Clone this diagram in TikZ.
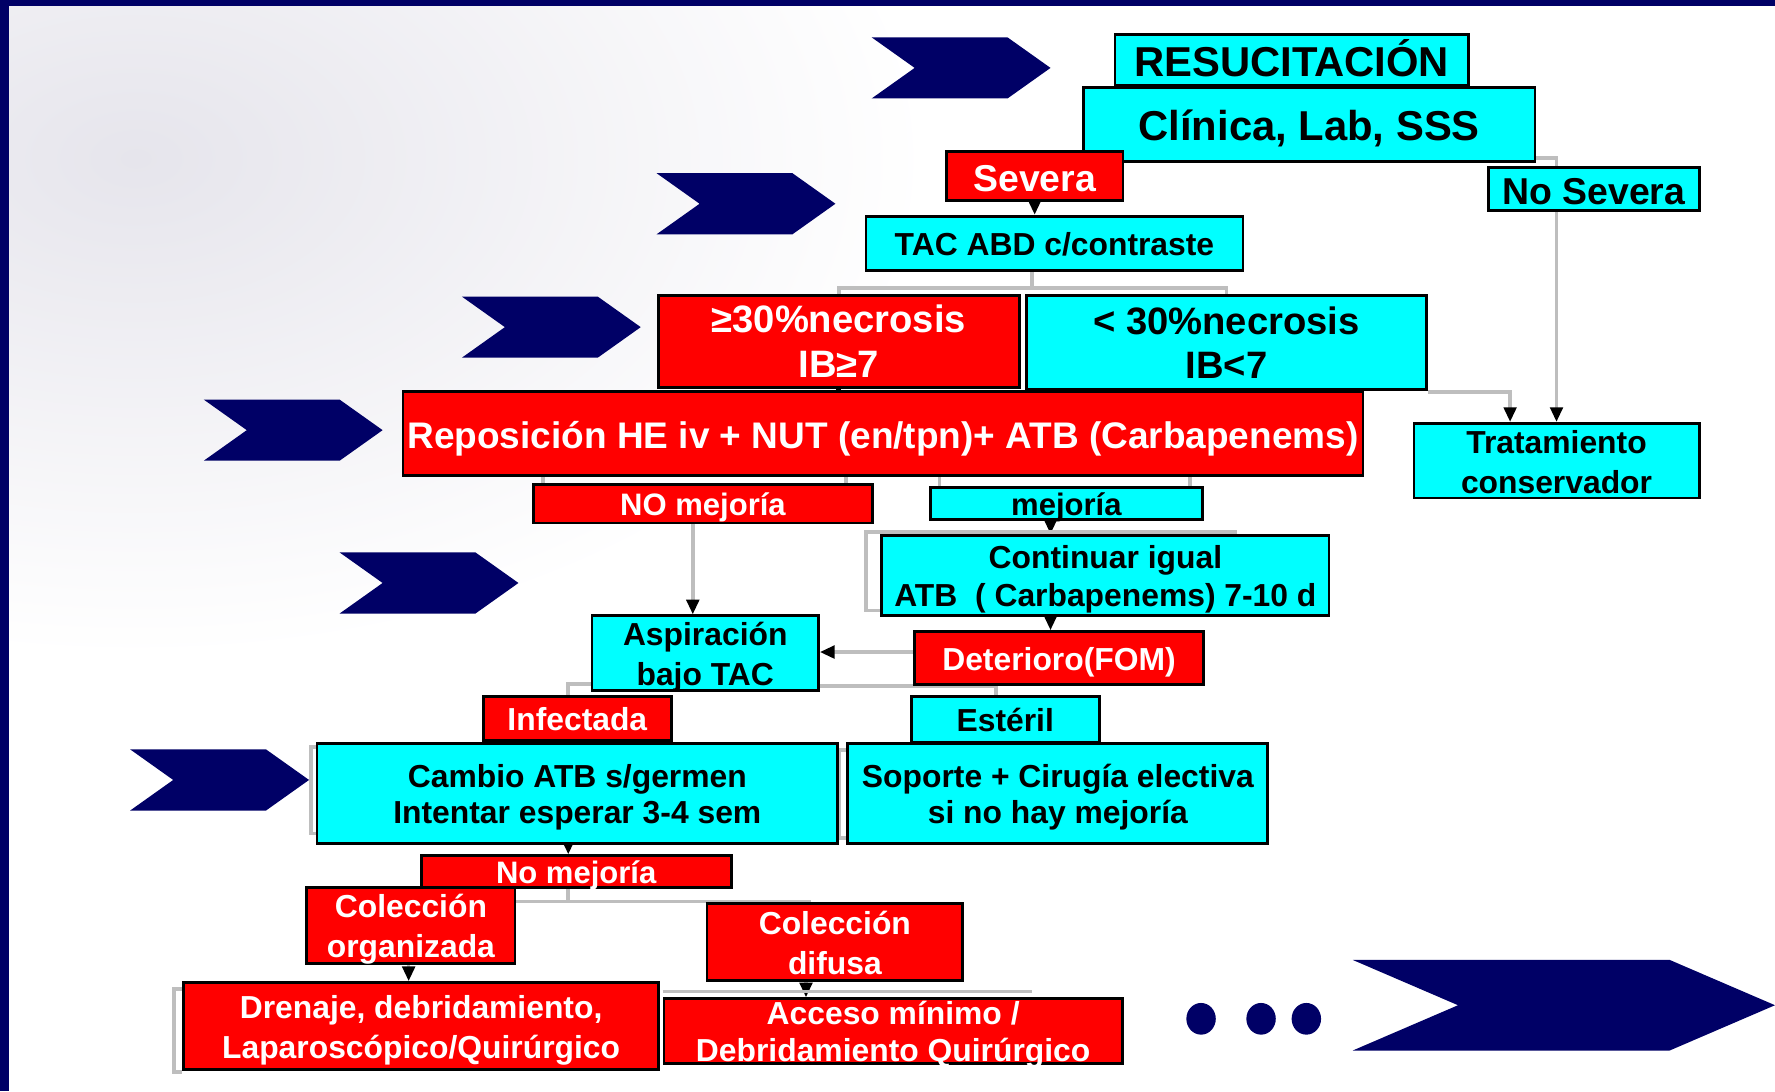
\documentclass[tikz,border=0pt]{standalone}
\usepackage{fontspec}
\setmainfont{Liberation Sans}
\usetikzlibrary{arrows.meta,backgrounds}
\definecolor{navy}{RGB}{0,0,102}
\definecolor{boxcyan}{RGB}{0,255,255}
\definecolor{boxred}{RGB}{255,0,0}
\definecolor{lgray}{RGB}{190,190,190}
\definecolor{haze}{RGB}{230,229,236}
% centred lines of a box
\newcommand{\btxt}[1]{\raisebox{-0.39em}[0pt][0pt]{\begin{tabular}{@{}c@{}}#1\end{tabular}}}

\begin{document}
\begin{tikzpicture}
  [x=0.1mm,y=-0.1mm,
   box/.style={draw=black,line width=0.7pt,inner sep=0pt},
   cbox/.style={box,fill=boxcyan,text=black},
   rbox/.style={box,fill=boxred,text=white},
   txt/.style 2 args={font=\bfseries\fontsize{#1}{#2}\selectfont},
   gline/.style={draw=lgray,line width=0.9pt},
   arr/.style={gline,-{Triangle[color=black,length=1.3mm,width=1.1mm]}}]
  \useasboundingbox (0,0) rectangle (1568,964);

  % background haze and frame
  \begin{scope}[on background layer]
    \clip (8,5) rectangle (1568,964);
    \shade[inner color=haze,outer color=white] (120,140) ellipse [x radius=700, y radius=440];
  \end{scope}
  \fill[navy] (0,0) rectangle (1568,5);
  \fill[navy] (0,0) rectangle (8,964);

  % chevrons
  \foreach \cx/\cy in {770/33,580/153,408/262,180/353,300/488,115/662}
    \fill[navy] (\cx,\cy) -- ++(120,0) -- ++(38,27) -- ++(-38,27) -- ++(-120,0) -- ++(38,-27) -- cycle;
  \fill[navy] (1195,848) -- (1475,848) -- (1568,888) -- (1475,928) -- (1195,928) -- (1288,888) -- cycle;
  \foreach \dx in {1061,1114,1154}
    \fill[navy] (\dx,900) ellipse [x radius=13, y radius=14];

  \node[cbox,txt={10.5}{13.1},minimum width=31.2mm,minimum height=4.5mm] (resu) at (1141,53) {\btxt{RESUCITACIÓN}};
  \node[cbox,txt={10.5}{13.1},minimum width=39.9mm,minimum height=6.5mm] (clin) at (1156.5,110) {\btxt{Clínica, Lab, SSS}};
  \node[rbox,txt={9.4}{11.75},minimum width=15.6mm,minimum height=4.3mm] (sev) at (914,155.5) {\btxt{Severa}};
  \node[cbox,txt={9.4}{11.75},minimum width=18.6mm,minimum height=3.8mm] (nosev) at (1408,167) {\btxt{No Severa}};
  \node[cbox,txt={8}{10},minimum width=33.3mm,minimum height=4.8mm] (tac) at (931.5,215) {\btxt{TAC ABD c/contraste}};
  \node[rbox,txt={9.6}{11.1},minimum width=31.9mm,minimum height=8.1mm] (nec1) at (741,301.5) {\btxt{≥30\%necrosis\\IB≥7}};
  \node[cbox,txt={9.6}{11.1},minimum width=35.3mm,minimum height=8.3mm] (nec2) at (1083.5,302.5) {\btxt{< 30\%necrosis\\IB<7}};
  \node[rbox,txt={9.3}{11.6},minimum width=84.8mm,minimum height=7.4mm] (repo) at (780,383) {\btxt{Reposición HE iv + NUT (en/tpn)+ ATB (Carbapenems)}};
  \node[cbox,txt={8}{10},minimum width=25.2mm,minimum height=6.6mm] (trat) at (1375,407) {\btxt{Tratamiento\\conservador}};
  \node[rbox,txt={7.8}{9.75},minimum width=30mm,minimum height=3.4mm] (nomej) at (621,445) {\btxt{NO mejoría}};
  \node[cbox,txt={7.8}{9.75},minimum width=24mm,minimum height=2.8mm] (mej) at (942,445) {\btxt{mejoría}};
  \node[cbox,txt={8}{9.4},minimum width=39.5mm,minimum height=7.1mm] (cont) at (976.5,508.5) {\btxt{Continuar igual\\ATB\ \ ( Carbapenems) 7-10 d}};
  \node[cbox,txt={8}{10},minimum width=20mm,minimum height=6.6mm] (asp) at (623,577) {\btxt{Aspiración\\bajo TAC}};
  \node[rbox,txt={8}{10},minimum width=25.5mm,minimum height=4.7mm] (det) at (935.5,581.5) {\btxt{Deterioro(FOM)}};
  \node[rbox,txt={8}{10},minimum width=16.6mm,minimum height=3.9mm] (inf) at (510,634.5) {\btxt{Infectada}};
  \node[cbox,txt={8}{10},minimum width=16.6mm,minimum height=4.1mm] (est) at (888,635.5) {\btxt{Estéril}};
  \node[cbox,txt={8}{9.2},minimum width=46mm,minimum height=8.8mm] (camb) at (510,701) {\btxt{Cambio ATB s/germen\\Intentar esperar 3-4 sem}};
  \node[cbox,txt={8}{9.2},minimum width=37.1mm,minimum height=8.8mm] (sop) at (934.5,701) {\btxt{Soporte + Cirugía electiva\\si no hay mejoría}};
  \node[rbox,txt={7.8}{9.75},minimum width=27.4mm,minimum height=2.8mm] (nomejb) at (509,770) {\btxt{No mejoría}};
  \node[rbox,txt={8}{10},minimum width=18.4mm,minimum height=6.7mm] (colo) at (363,817.5) {\btxt{Colección\\organizada}};
  \node[rbox,txt={8}{10},minimum width=22.6mm,minimum height=6.8mm] (cold) at (737.5,832) {\btxt{Colección\\difusa}};
  \node[rbox,txt={8}{10},minimum width=42mm,minimum height=7.7mm] (dren) at (372,906.5) {\btxt{Drenaje, debridamiento,\\Laparoscópico/Quirúrgico}};
  \node[rbox,txt={8}{9.4},minimum width=40.5mm,minimum height=5.75mm] (acc) at (789,911) {\btxt{Acceso mínimo /\\Debridamiento Quirúrgico}};

  \draw[black,line width=1.2pt] (nec1.south) -- (nec1.south |- repo.north);

  \begin{scope}[on background layer]
    \draw[gline] ([yshift=0.4mm]clin.south east) -| ([xshift=-3.3mm]nosev.north);
    \draw[arr] ([xshift=-3.3mm]nosev.south) -- ([xshift=-3.3mm]nosev.south |- trat.north);
    \draw[arr] ([yshift=-0.1mm]nec2.south east) -| ([xshift=-4.1mm]trat.north);

    \coordinate (tacsplit) at ([xshift=-2mm,yshift=-1.4mm]tac.south);
    \draw[gline] ([xshift=-2mm]tac.south) -- (tacsplit);
    \draw[gline] (nec1.north) |- (tacsplit) -| (nec2.north);

    \draw[gline] ([xshift=1mm]nomej.north west) -- ++(0,-8) -| ([xshift=-2.5mm]nomej.north east);
    \draw[gline] ([xshift=0.9mm]mej.north west) -- ++(0,-10) -| ([xshift=-1.2mm]mej.north east);

    \foreach \from/\to/\dx in {sev/tac/0,mej/cont/-1.4,cont/det/-4.85,nomej/asp/-0.9,camb/nomejb/-0.8,colo/dren/-0.2,cold/acc/-2.55}
      \draw[arr] ([xshift=\dx mm]\from.south) -- ([xshift=\dx mm]\from.south |- \to.north);

    \draw[arr] ([yshift=0.55mm]det.west) -- ([yshift=0.55mm]det.west -| asp.east);
    \draw[gline] ([yshift=0.5mm]asp.south east) -| ([xshift=-0.8mm]est.north);
    \draw[gline] ([yshift=0.7mm]asp.south west) -| ([xshift=-0.8mm]inf.north);

    \coordinate (colsplit) at ([xshift=-0.7mm,yshift=-1.1mm]nomejb.south);
    \draw[gline] ([xshift=-0.7mm]nomejb.south) -- (colsplit);
    \draw[gline] (colo.east |- colsplit) -| ([xshift=-2.25mm]cold.north);

    % grey edges left behind boxes
    \draw[gline] ([xshift=31.5mm,yshift=0.2mm]cont.north west) -| ([xshift=-1.3mm]cont.west) |- ([yshift=0.6mm]cont.south west);
    \draw[gline] ([yshift=-0.4mm]camb.north west) -| ([xshift=-0.4mm]camb.west) |- ([yshift=1mm]camb.south west);
    \draw[gline] ([yshift=-0.7mm]sop.north west) -| ([xshift=-0.6mm]sop.west) |- ([yshift=0.6mm]sop.south west);
    \draw[gline] ([yshift=-0.7mm]dren.north west) -| ([xshift=-0.7mm]dren.west) |- ([yshift=-0.1mm]dren.south west);
    \draw[gline] ([yshift=0.5mm]acc.north west) -- ([xshift=-8.15mm,yshift=0.5mm]acc.north east);
  \end{scope}

\end{tikzpicture}
\end{document}
